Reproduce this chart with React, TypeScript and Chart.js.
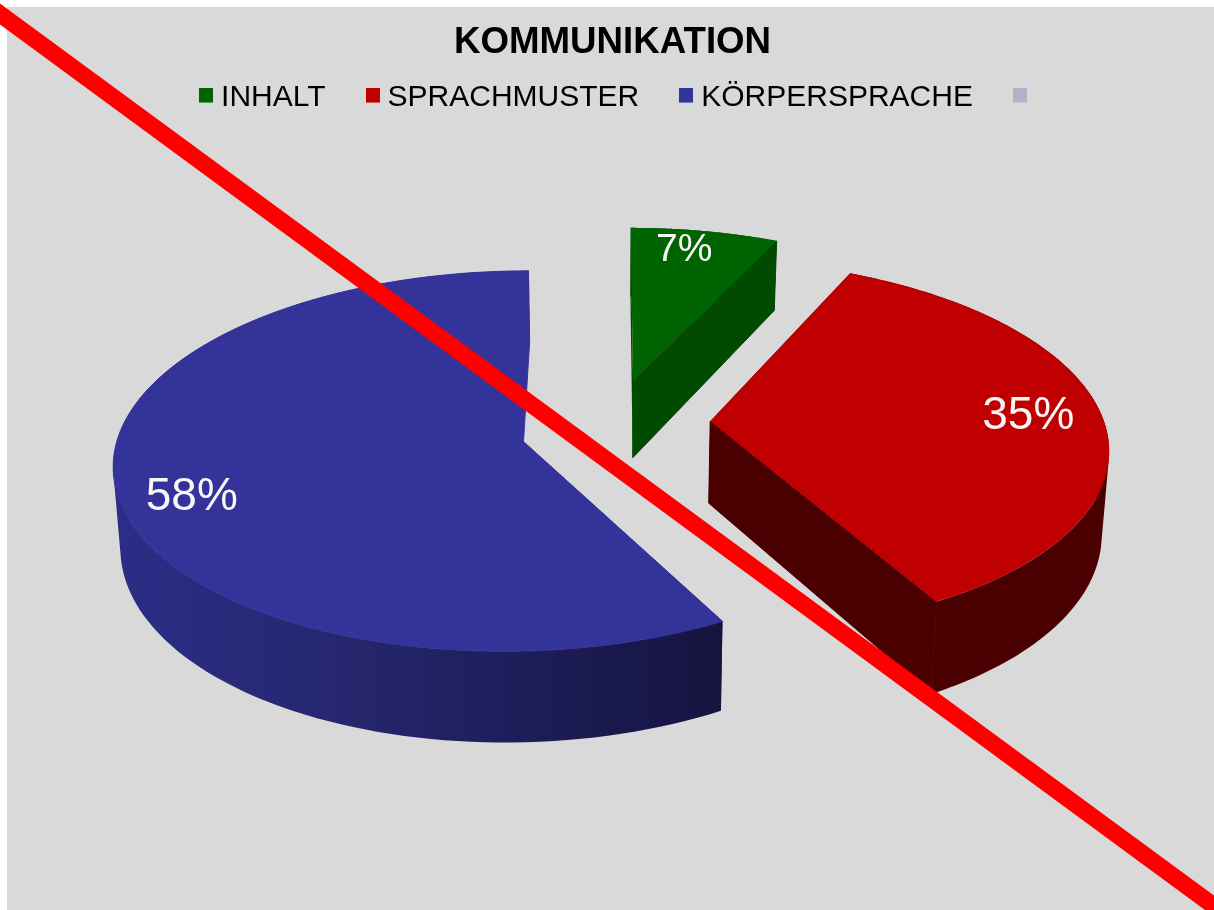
import React, { useEffect, useRef } from "react";
import { Chart, registerables } from "chart.js";

Chart.register(...registerables);

const TITLE = "KOMMUNIKATION";
const CATEGORIES = ["INHALT", "SPRACHMUSTER", "KÖRPERSPRACHE", ""];
const SHARES = [7, 35, 58, 0];
const TOP_COLORS = ["#006400", "#c00000", "#333399", "#b2b2c9"];
const WALL_COLORS = ["#004b00", "#4a0000", "#333399", "#b2b2c9"];
const LABEL_SIZES = [39, 46, 46, 0];
const EXPLODE = [0.25, 0.2475, 0.243, 0];
const LIFT = [0.005, 0.012, 0, 0];
const RADIUS = [0.988, 0.992, 0.995, 1];
const THICKNESS = [0.975, 1, 0.96, 1];
const LABEL_RADIUS = [0.845, 0.805, 0.83, 0];
const LABEL_TURN = [-2.2, 0, -7.6, 0];
const FONT = "'Liberation Sans', Arial, sans-serif";

// Perspective view of the pie
const VIEW = { cx: 612, cy: 425, bx: 398, by: 185, k: 0.13, depth: 82, taper: 0.015 };

type P = [number, number];
const project = (x: number, y: number, z: number): P => {
  const s = 1 / (1 + VIEW.k * y);
  return [VIEW.cx + VIEW.bx * x * s * (1 - VIEW.taper * z), VIEW.cy - VIEW.by * y * s + VIEW.depth * z * s];
};

const trace = (ctx: CanvasRenderingContext2D, pts: P[]) => {
  pts.forEach((p, i) => (i ? ctx.lineTo(p[0], p[1]) : ctx.moveTo(p[0], p[1])));
  ctx.closePath();
};

const poly = (ctx: CanvasRenderingContext2D, pts: P[], fill: string | CanvasGradient, seam = false) => {
  ctx.beginPath();
  trace(ctx, pts);
  ctx.fillStyle = fill;
  ctx.fill();
  if (seam) {
    ctx.strokeStyle = fill;
    ctx.lineWidth = 1;
    ctx.stroke();
  }
};

const area = (pts: P[]) =>
  pts.reduce((sum, p, i) => {
    const q = pts[(i + 1) % pts.length];
    return sum + p[0] * q[1] - q[0] * p[1];
  }, 0);

const swatch = (color: string) => {
  const c = document.createElement("canvas");
  c.width = 14;
  c.height = 21;
  const g = c.getContext("2d")!;
  g.fillStyle = color;
  g.fillRect(0, 0, 14, 15);
  return c;
};

const pie3d = {
  id: "pie3d",
  afterLayout(chart: any) {
    chart.legend.left += 8;
    chart.legend.right += 8;
  },
  beforeDatasetsDraw(chart: any) {
    const ctx: CanvasRenderingContext2D = chart.ctx;
    const arcs = chart.getDatasetMeta(0).data;
    ctx.save();
    arcs.forEach((arc: any, i: number) => {
      const a0 = arc.startAngle + Math.PI / 2;
      const a1 = arc.endAngle + Math.PI / 2;
      if (a1 - a0 <= 0) return;
      const mid = (a0 + a1) / 2;
      const ox = Math.sin(mid) * EXPLODE[i];
      const oy = Math.cos(mid) * EXPLODE[i] + LIFT[i];
      const at = (a: number, r: number, z: number) =>
        project(ox + Math.sin(a) * r * RADIUS[i], oy + Math.cos(a) * r * RADIUS[i], z);
      const n = 120;
      const zb = THICKNESS[i];
      const top: P[] = [];
      const bottom: P[] = [];
      for (let j = 0; j <= n; j++) {
        const a = a0 + ((a1 - a0) * j) / n;
        top.push(at(a, 1, 0));
        bottom.push(at(a, 1, zb));
      }
      // first radial wall
      poly(ctx, [at(0, 0, 0), top[0], bottom[0], at(0, 0, zb)], WALL_COLORS[i]);
      // outer wall: one path of same-handed facets, filled at once, so no seams show
      let wall: string | CanvasGradient = WALL_COLORS[i];
      if (i === 2) {
        const g = ctx.createLinearGradient(120, 0, 720, 0);
        g.addColorStop(0, "#2b2d86");
        g.addColorStop(0.35, "#26276f");
        g.addColorStop(0.7, "#1d1c57");
        g.addColorStop(1, "#15143f");
        wall = g;
      }
      ctx.beginPath();
      for (let j = 0; j < n; j++) {
        const quad: P[] = [top[j], top[j + 1], bottom[j + 1], bottom[j]];
        trace(ctx, area(quad) < 0 ? quad.reverse() : quad);
      }
      ctx.fillStyle = wall;
      ctx.fill("nonzero");
      // last radial wall
      poly(ctx, [at(0, 0, 0), top[n], bottom[n], at(0, 0, zb)], WALL_COLORS[i], true);
      // top face
      poly(ctx, [at(0, 0, 0), ...top], TOP_COLORS[i], i === 2);
    });
    // percentage labels
    ctx.textAlign = "center";
    ctx.textBaseline = "middle";
    ctx.fillStyle = "#f7f7f7";
    const total = SHARES.reduce((a, b) => a + b, 0);
    arcs.forEach((arc: any, i: number) => {
      if (!SHARES[i]) return;
      const mid = (arc.startAngle + arc.endAngle) / 2 + Math.PI / 2;
      const ox = Math.sin(mid) * EXPLODE[i];
      const oy = Math.cos(mid) * EXPLODE[i] + LIFT[i];
      const turned = mid + (LABEL_TURN[i] * Math.PI) / 180;
      const p = project(ox + Math.sin(turned) * LABEL_RADIUS[i], oy + Math.cos(turned) * LABEL_RADIUS[i], 0);
      ctx.font = `${LABEL_SIZES[i]}px ${FONT}`;
      ctx.fillText(`${Math.round((SHARES[i] / total) * 100)}%`, p[0], p[1]);
    });
    ctx.restore();
    return false;
  },
};

const strike = {
  id: "strike",
  afterDraw(chart: any) {
    const { ctx, width, height } = chart;
    ctx.save();
    ctx.strokeStyle = "#ff0000";
    ctx.lineWidth = 17;
    ctx.lineCap = "butt";
    ctx.beginPath();
    ctx.moveTo(-0.01 * width, 0.0055 * height);
    ctx.lineTo(1.01 * width, 1.0055 * height);
    ctx.stroke();
    ctx.restore();
  },
};

export default function App() {
  const ref = useRef<HTMLCanvasElement>(null);
  useEffect(() => {
    const chart = new Chart(ref.current!, {
      type: "pie",
      data: {
        labels: CATEGORIES,
        datasets: [{ data: SHARES, backgroundColor: TOP_COLORS, borderWidth: 0 }],
      },
      plugins: [pie3d, strike],
      options: {
        animation: false,
        responsive: false,
        layout: { padding: { left: 11 } },
        plugins: {
          tooltip: { enabled: false },
          title: {
            display: true,
            text: TITLE,
            color: "#000000",
            font: { family: FONT, size: 36.7, weight: "bold" },
            padding: { top: 21, bottom: -29 },
          },
          legend: {
            display: true,
            position: "top",
            labels: {
              color: "#1c1c1c",
              font: { family: FONT, size: 30 },
              usePointStyle: true,
              boxWidth: 0.01,
              padding: 47,
              generateLabels: () =>
                CATEGORIES.map((text, i) => ({
                  text,
                  index: i,
                  hidden: false,
                  lineWidth: 0,
                  fillStyle: TOP_COLORS[i],
                  strokeStyle: TOP_COLORS[i],
                  pointStyle: swatch(TOP_COLORS[i]),
                })),
            },
          },
        },
      },
    } as any);
    return () => chart.destroy();
  }, []);
  return (
    <div style={{ position: "fixed", inset: 0, background: "#ffffff", overflow: "hidden" }}>
      <div style={{ position: "absolute", left: 7, top: 7, right: 0, bottom: 0, background: "#d9d9d9" }} />
      <canvas ref={ref} width={1214} height={910} style={{ position: "absolute", left: 0, top: 0, display: "block" }} />
    </div>
  );
}
